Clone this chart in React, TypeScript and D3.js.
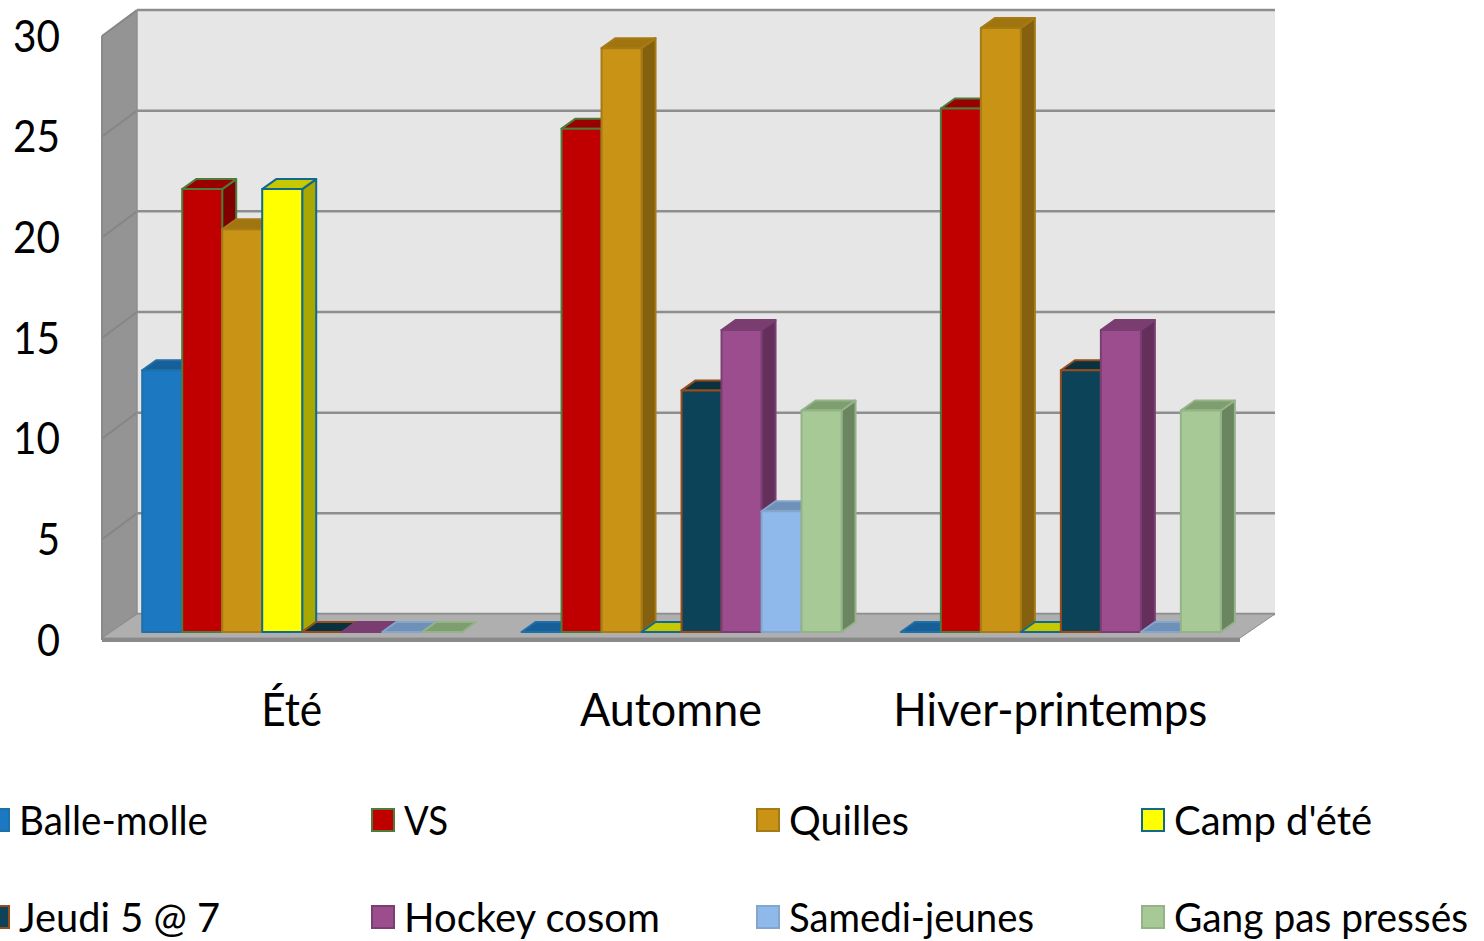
import * as d3 from 'd3';

const categories = ['Été', 'Automne', 'Hiver-printemps'];
const seriesNames = ['Balle-molle', 'VS', 'Quilles', "Camp d'été", 'Jeudi 5 @ 7', 'Hockey cosom', 'Samedi-jeunes', 'Gang pas pressés'];
const ete = [13, 22, 20, 22, 0, 0, 0, 0];
const automne = [0, 25, 29, 0, 12, 15, 6, 11];
const hiver = [0, 26, 30, 0, 13, 15, 0, 11];
const yTicks = [0, 5, 10, 15, 20, 25, 30];

const fills = ['#1c78c0', '#c00000', '#c99316', '#ffff00', '#0c4359', '#9b4d8d', '#8fb9ea', '#a6c995'];
const tops = ['#175f99', '#990000', '#a0750f', '#c8c800', '#08323f', '#7b3c70', '#6f90b8', '#7f9e70'];
const sides = ['#134f80', '#800000', '#85600f', '#a8a800', '#062a36', '#652f5c', '#5c7a9c', '#6a8560'];
const strokes = ['#1f6fa8', '#4f7a3a', '#a67a14', '#0f6a8e', '#974c1c', '#7a3f72', '#85a6cc', '#94b389'];

const FONT = 'Lato, "Noto Sans", sans-serif';
const W = 1484;
const H = 941;

// box geometry
const left = 102;
const right = 1240;
const wallDx = 35;
const wallDy = 26;
const barDx = 14;
const barDy = 10;

// the original font is narrower than Lato, so the text widths are fitted
const legendTextWidths = [189, 44, 120, 198, 201, 256, 245, 294];
const categoryTextWidths = [61, 182, 314];

const y = d3.scaleLinear().domain([0, 30]).range([640, 36]);
const yBar = d3.scaleLinear().domain([0, 30]).range([632, 28]);
const x0 = d3.scaleBand<string>().domain(categories).range([left, right]);
const x1 = d3.scaleBand<string>().domain(seriesNames).range([40.2, 360.2]);

const poly = d3.line();

const Bar = ({ x, v, i }: { x: number; v: number; i: number }) => {
  const w = x1.bandwidth();
  const base = yBar(0);
  const t = yBar(v);
  return (
    <g stroke={strokes[i]} strokeWidth={2} strokeLinejoin="round">
      {v > 0 && (
        <path
          fill={sides[i]}
          d={poly([[x + w, t], [x + w + barDx, t - barDy], [x + w + barDx, base - barDy], [x + w, base]]) + 'Z'}
        />
      )}
      <path
        fill={tops[i]}
        d={poly([[x, t], [x + barDx, t - barDy], [x + w + barDx, t - barDy], [x + w, t]]) + 'Z'}
      />
      {v > 0 && <rect x={x} y={t} width={w} height={base - t} fill={fills[i]} />}
    </g>
  );
};

const App = () => {
  const rows = [ete, automne, hiver];
  return (
    <svg width={W} height={H} style={{ position: 'absolute', left: 0, top: 0, background: '#fff' }} fontFamily={FONT}>
      {/* walls */}
      <path fill="#e6e6e6" d={poly([[left + wallDx, y(30) - wallDy], [right + wallDx, y(30) - wallDy], [right + wallDx, y(0) - wallDy], [left + wallDx, y(0) - wallDy]]) + 'Z'} />
      <path fill="#949494" d={poly([[left, y(30)], [left + wallDx, y(30) - wallDy], [left + wallDx, y(0) - wallDy], [left, y(0)]]) + 'Z'} />
      {yTicks.map((t) => (
        <g key={t} fill="none">
          <line x1={left + wallDx} x2={right + wallDx} y1={y(t) - wallDy} y2={y(t) - wallDy} stroke="#8e8e8e" strokeWidth={2.5} />
          <line x1={left} x2={left + wallDx} y1={y(t)} y2={y(t) - wallDy} stroke="#868686" strokeWidth={2} />
        </g>
      ))}
      <line x1={left + wallDx} x2={left + wallDx} y1={y(30) - wallDy} y2={y(0) - wallDy} stroke="#8e8e8e" strokeWidth={1.5} />
      {/* floor */}
      <path fill="#afafaf" stroke="#8c8c8c" strokeWidth={1} d={poly([[left, y(0) - 2], [left + wallDx, y(0) - wallDy], [right + wallDx, y(0) - wallDy], [right, y(0) - 2]]) + 'Z'} />
      <rect x={left} y={y(0) - 2} width={right - left} height={4} fill="#8a8a8a" />
      <line x1={left} x2={left} y1={y(30)} y2={y(0)} stroke="#8a8a8a" strokeWidth={2} />

      {/* bars */}
      {categories.map((c, ci) =>
        seriesNames.map((s, i) => (
          <Bar key={c + s} x={(x0(c) as number) + (x1(s) as number)} v={rows[ci][i]} i={i} />
        )),
      )}

      {/* axis labels */}
      {yTicks.map((t) => (
        <text key={t} x={60} y={y(t) + 15.5} textAnchor="end" fontSize={45} fill="#000" textLength={t < 10 ? 23 : 47} lengthAdjust="spacingAndGlyphs">
          {t}
        </text>
      ))}
      {categories.map((c, i) => (
        <text
          key={c}
          x={(x0(c) as number) + x0.bandwidth() / 2}
          y={726}
          textAnchor="middle"
          fontSize={46}
          fill="#000"
          textLength={categoryTextWidths[i]}
          lengthAdjust="spacingAndGlyphs"
        >
          {c}
        </text>
      ))}

      {/* legend */}
      {seriesNames.map((s, i) => {
        const col = i % 4;
        const row = Math.floor(i / 4);
        const lx = -13 + col * 385;
        const ly = 809 + row * 97;
        return (
          <g key={s}>
            <rect x={lx} y={ly} width={22} height={22} fill={fills[i]} stroke={strokes[i]} strokeWidth={2} />
            <text x={lx + 32} y={ly + 26} fontSize={40} fill="#000" textLength={legendTextWidths[i]} lengthAdjust="spacingAndGlyphs">
              {s}
            </text>
          </g>
        );
      })}
    </svg>
  );
};

export default App;
